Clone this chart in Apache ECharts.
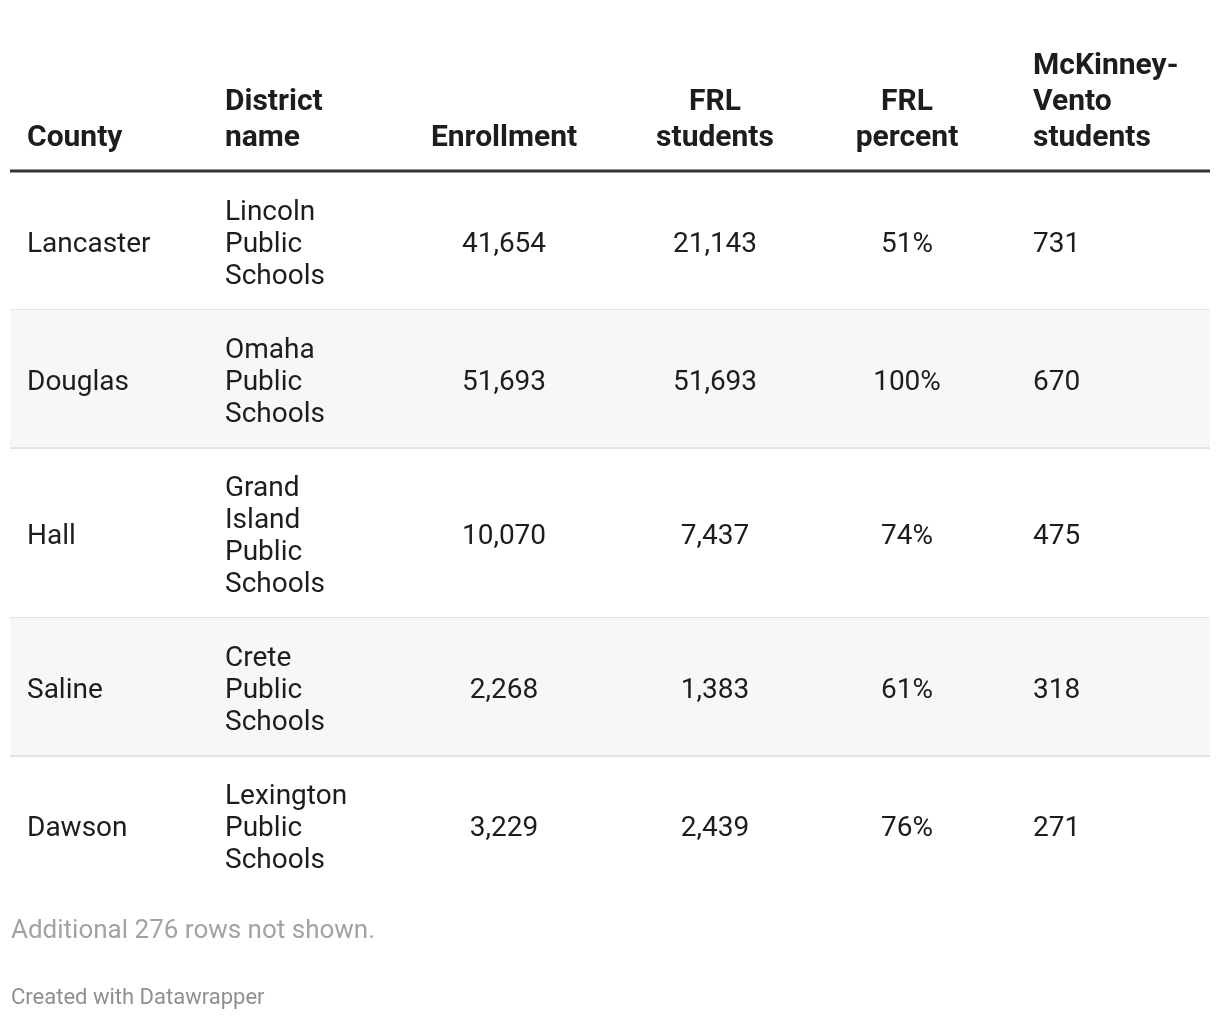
<!DOCTYPE html>
<html><head><meta charset="utf-8">
<script src="https://cdn.jsdelivr.net/npm/echarts@6/dist/echarts.min.js"></script>
<style>html,body{margin:0;padding:0;background:#fff}#c{width:1220px;height:1020px}</style>
</head><body><div id="c"></div>
<script>
// ---- data ----
const headers = ['County', 'District\nname', 'Enrollment', 'FRL\nstudents', 'FRL\npercent', 'McKinney-\nVento\nstudents'];
const counties = ['Lancaster', 'Douglas', 'Hall', 'Saline', 'Dawson'];
const districts = ['Lincoln Public Schools', 'Omaha Public Schools', 'Grand Island Public Schools', 'Crete Public Schools', 'Lexington Public Schools'];
const enrollment = [41654, 51693, 10070, 2268, 3229];
const frlStudents = [21143, 51693, 7437, 1383, 2439];
const frlPercent = [51, 100, 74, 61, 76];
const mckinneyVento = [731, 670, 475, 318, 271];
const rowsNotShown = 276;

// ---- layout (not data) ----
const FONT = 'Roboto, "Noto Sans", sans-serif';
const TABLE_LEFT = 10, TABLE_W = 1200, HEAD_LINE_Y = 171;
const LINE_H = 32, PAD = 21, TEXT_SHIFT = 4;
const cols = [
  { x: 17, align: 'left' },
  { x: 215, align: 'left' },
  { x: 494, align: 'center' },
  { x: 705, align: 'center' },
  { x: 897, align: 'center' },
  { x: 1023, align: 'left' }
];
const fmt = v => v.toLocaleString('en-US');

const districtLines = districts.map(d => d.split(' '));
let acc = 0;
const rowData = districtLines.map((lines, i) => {
  const h = lines.length * LINE_H + 2 * PAD;
  const r = [i, acc, acc + h];
  acc += h;
  return r;
});
const totalH = acc;

function cellTexts(i) {
  return [counties[i], districtLines[i].join('\n'), fmt(enrollment[i]), fmt(frlStudents[i]), frlPercent[i] + '%', fmt(mckinneyVento[i])];
}

const chart = echarts.init(document.getElementById('c'), null, { renderer: 'canvas' });

const headerGraphics = headers.map((h, j) => ({
  type: 'text',
  x: TABLE_LEFT + cols[j].x,
  y: 156,
  style: {
    text: h, fill: '#1d1d1d', fontFamily: FONT, fontWeight: 'bold', fontSize: 30,
    lineHeight: 36, align: cols[j].align, verticalAlign: 'bottom'
  }
}));

chart.setOption({
  animation: false,
  backgroundColor: '#ffffff',
  grid: { left: TABLE_LEFT, width: TABLE_W, top: HEAD_LINE_Y + 1, height: totalH, containLabel: false },
  xAxis: { type: 'value', min: 0, max: TABLE_W, show: false },
  yAxis: { type: 'value', min: 0, max: totalH, inverse: true, show: false },
  graphic: headerGraphics.concat([
    { type: 'rect', shape: { x: TABLE_LEFT, y: HEAD_LINE_Y - 1.5, width: TABLE_W, height: 3 }, style: { fill: '#333333' } },
    { type: 'text', x: 11, y: 931, style: { text: 'Additional ' + rowsNotShown + ' rows not shown.', fill: '#a3a3a3', fontFamily: FONT, fontSize: 26, verticalAlign: 'middle' } },
    { type: 'text', x: 11, y: 998, style: { text: 'Created with Datawrapper', fill: '#8f8f8f', fontFamily: FONT, fontSize: 22, verticalAlign: 'middle' } }
  ]),
  series: [{
    type: 'custom',
    coordinateSystem: 'cartesian2d',
    data: rowData,
    clip: false,
    renderItem: function (params, api) {
      const i = api.value(0);
      const p0 = api.coord([0, api.value(1)]);
      const p1 = api.coord([TABLE_W, api.value(2)]);
      const cy = (p0[1] + p1[1]) / 2 + TEXT_SHIFT;
      const children = [];
      if (i % 2 === 1) {
        children.push({ type: 'rect', shape: { x: p0[0], y: p0[1], width: p1[0] - p0[0], height: p1[1] - p0[1] }, style: { fill: '#f7f7f7' } });
      }
      if (i < rowData.length - 1) {
        children.push({ type: 'rect', shape: { x: p0[0], y: p1[1] - 1, width: p1[0] - p0[0], height: 2 }, style: { fill: '#e5e5e5' } });
      }
      cellTexts(i).forEach((t, j) => {
        const px = api.coord([cols[j].x, 0])[0];
        children.push({
          type: 'text', x: px, y: cy,
          style: { text: t, fill: '#1d1d1d', fontFamily: FONT, fontSize: 28, lineHeight: LINE_H, align: cols[j].align, verticalAlign: 'middle' }
        });
      });
      return { type: 'group', children: children };
    }
  }]
});
</script>
</body></html>
